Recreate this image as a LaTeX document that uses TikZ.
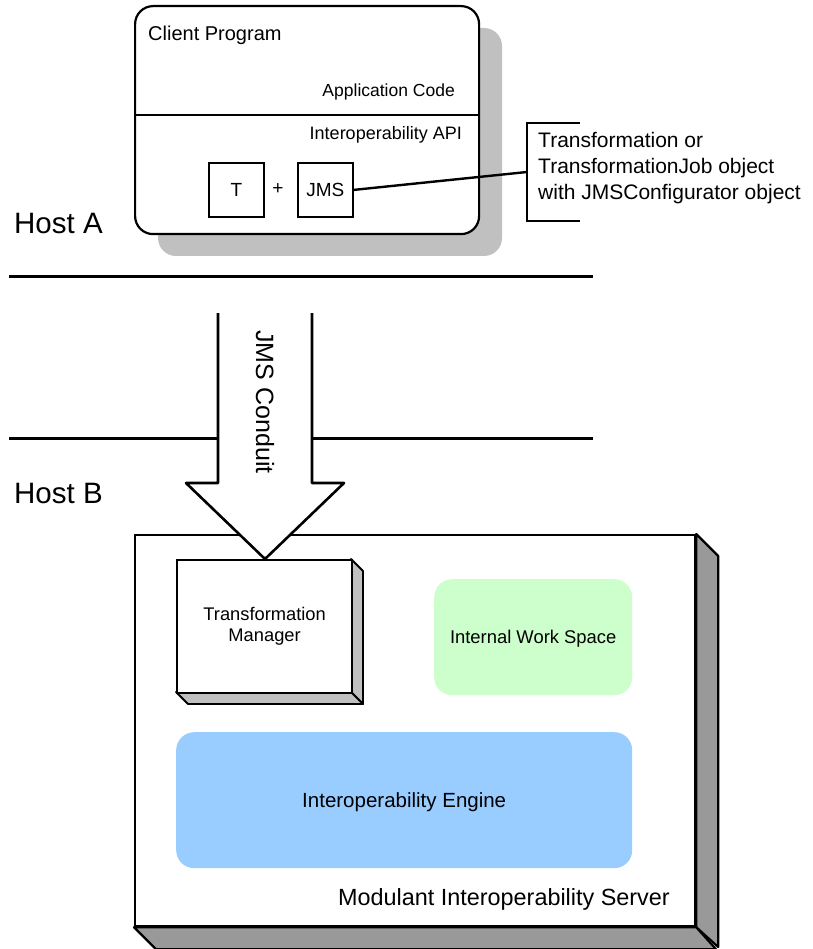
\documentclass[tikz,border=0pt]{standalone}
\usepackage{fontspec}
\setmainfont{Liberation Sans}
\newcommand\fs[2]{\fontsize{#1}{#2}\selectfont}
\definecolor{shadowgray}{RGB}{192,192,192}
\definecolor{sidegray}{RGB}{153,153,153}
\definecolor{wsgreen}{RGB}{204,255,204}
\definecolor{engblue}{RGB}{153,204,255}
\begin{document}
\begin{tikzpicture}[x=1pt,y=-1pt,
  lbl/.style={inner sep=0pt},
  frame/.style={draw, line width=2.2pt, fill=white, inner sep=0pt, anchor=north west},
  smallbox/.style={draw, line width=1.8pt, inner sep=0pt, anchor=north west,
    minimum width=55pt, minimum height=54pt, font=\fs{19}{23}},
  area/.style={rounded corners=18pt, inner sep=0pt, text depth=0pt, anchor=north west},
  hostline/.style={line width=3pt},
  heavy/.style={line width=2.4pt}]
\useasboundingbox (0,0) rectangle (812,949);

% --- Host A: client program ---
\fill[shadowgray, rounded corners=18pt] (158,28) rectangle (502,256);
\node[frame, rounded corners=18pt, minimum width=344pt, minimum height=228pt] (client) at (134,5) {};
\coordinate (divy) at (0,115);
\draw[line width=2.2pt] (client.west |- divy) -- (client.east |- divy);
\node[lbl, anchor=base west, font=\fs{20}{24}] (cptitle) at (148,41) {Client Program};
\node[lbl, anchor=base east, font=\fs{17.5}{21}] (appcode) at (455,97) {Application Code};
\node[lbl, anchor=base east, font=\fs{18}{22}] (api) at (462,140) {Interoperability API};
\node[smallbox] (tbox) at (208,162) {T};
\node[lbl, font=\fs{19}{23}] (plus) at (278,189) {+};
\node[smallbox] (jms) at (297,162) {JMS};

% bracket note
\coordinate (brk) at (527,172);
\draw[heavy] (580,123) -- (527,123) -- (527,221) -- (580,221);
\draw[heavy] (jms.east) -- (brk);
\node[lbl, anchor=base west, font=\fs{21}{26}] (note1) at (538,148) {Transformation or};
\node[lbl, anchor=base west, font=\fs{21}{26}] (note2) at (538,174) {TransformationJob object};
\node[lbl, anchor=base west, font=\fs{21}{26}] (note3) at (538,200) {with JMSConfigurator object};

% --- host boundaries ---
\node[lbl, anchor=base west, font=\fs{29.5}{34}] (hosta) at (14,234) {Host A};
\draw[hostline] (9,277) -- (593,277);
\draw[hostline] (9,438.5) -- (593,438.5);
\node[lbl, anchor=base west, font=\fs{29.5}{34}] (hostb) at (14,503) {Host B};

% --- Host B: interoperability server ---
\node[frame, minimum width=560pt, minimum height=391pt] (server) at (134,534) {};
\draw[line width=2.2pt, fill=sidegray, line join=round] (server.north east) -- ++(22,22) -- ++(0,391) -- (server.south east) -- cycle;
\draw[line width=2.2pt, fill=sidegray, line join=round] (server.south west) -- ++(22,22) -- ++(560,0) -- (server.south east) -- cycle;
\node[lbl, anchor=base east, font=\fs{23.4}{28}] (srvlabel) at (670,905) {Modulant Interoperability Server};

% JMS conduit arrow
\coordinate (tip) at (265,559);
\path[fill=white, draw=black, line width=2.6pt, line join=round]
  (218,313) -- (218,483) -- (186,483) -- (tip) -- (344,483) -- (312,483) -- (312,313);
\node[lbl, rotate=-90, font=\fs{25}{30}] (conduit) at (265,402) {JMS Conduit};

% transformation manager block
\draw[line width=1.8pt, fill=shadowgray, line join=round] (351,559) -- ++(12,12) -- ++(0,133) -- (351,692) -- cycle;
\draw[line width=1.8pt, fill=shadowgray, line join=round] (176,692) -- ++(12,12) -- ++(175,0) -- (351,692) -- cycle;
\node[frame, minimum width=175pt, minimum height=133pt, align=center, font=\fs{18.3}{21}] (tm) at (176,559) {Transformation\\Manager};

% work space and engine
\node[area, fill=wsgreen, minimum width=198pt, minimum height=116pt, font=\fs{18.4}{22}] (iws) at (434,579) {Internal Work Space};
\node[area, fill=engblue, minimum width=456pt, minimum height=136pt, font=\fs{20.5}{24}] (engine) at (176,732) {Interoperability Engine};
\end{tikzpicture}
\end{document}
